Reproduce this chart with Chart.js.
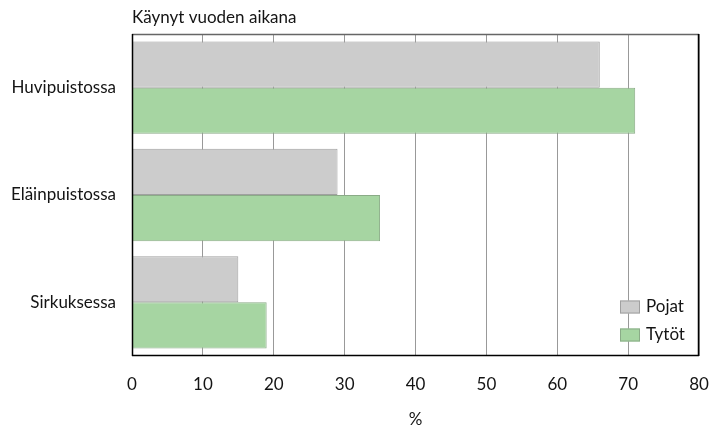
<!DOCTYPE html>
<html>
<head>
<meta charset="utf-8">
<script src="https://cdn.jsdelivr.net/npm/chart.js@4"></script>
<style>
  html, body { margin: 0; padding: 0; background: #fff; }
  #wrap { width: 715px; height: 430px; }
</style>
</head>
<body>
<div id="wrap"><canvas id="c" width="715" height="430"></canvas></div>
<script>
const categories = ['Huvipuistossa', 'Eläinpuistossa', 'Sirkuksessa'];
const pojat = [66, 29, 15];
const tytot = [71, 35, 19];
const seriesNames = ['Pojat', 'Tytöt'];
const titleText = 'Käynyt vuoden aikana';
const axisTitle = '%';

const FAMILY = "Lato, 'Open Sans', sans-serif";
const SIZE = 17;
const TEXT = '#141414';
const FONT_STR = SIZE + 'px ' + FAMILY;
const tickFont = { family: FAMILY, size: SIZE };
const colors = [
  { fill: '#cccccc', border: '#a0a0a0' },
  { fill: '#a6d5a2', border: '#8aab87' }
];

// Frame around the plot area, heading above it and legend inside it
const decor = {
  id: 'decor',
  afterDraw(chart) {
    const { ctx, chartArea: a } = chart;
    ctx.save();
    ctx.lineWidth = 1.5;
    ctx.strokeStyle = '#666';
    ctx.beginPath(); ctx.moveTo(a.left, a.top + 0.5); ctx.lineTo(a.right, a.top + 0.5); ctx.stroke();
    ctx.strokeStyle = '#000';
    ctx.beginPath();
    ctx.moveTo(a.right - 0.5, a.top); ctx.lineTo(a.right - 0.5, a.bottom);
    ctx.moveTo(a.left + 0.5, a.top); ctx.lineTo(a.left + 0.5, a.bottom);
    ctx.moveTo(a.left, a.bottom - 0.5); ctx.lineTo(a.right, a.bottom - 0.5);
    ctx.stroke();

    ctx.fillStyle = TEXT;
    ctx.font = FONT_STR;
    ctx.textBaseline = 'middle';
    ctx.textAlign = 'left';
    ctx.fillText(titleText, a.left, 18);

    // legend
    const boxX = a.right - 79, boxW = 20, boxH = 13;
    const rows = [a.bottom - 49, a.bottom - 21];
    seriesNames.forEach((name, i) => {
      const y = rows[i];
      ctx.fillStyle = colors[i].fill;
      ctx.fillRect(boxX, y - boxH / 2, boxW, boxH);
      ctx.strokeStyle = colors[i].border;
      ctx.lineWidth = 1;
      ctx.strokeRect(boxX + 0.5, y - boxH / 2 + 0.5, boxW - 1, boxH - 1);
      ctx.fillStyle = TEXT;
      ctx.fillText(name, boxX + boxW + 6, y);
    });
    ctx.restore();
  }
};

new Chart(document.getElementById('c'), {
  type: 'bar',
  data: {
    labels: categories,
    datasets: [
      { label: seriesNames[0], data: pojat, backgroundColor: colors[0].fill, borderColor: colors[0].border, borderWidth: 1 },
      { label: seriesNames[1], data: tytot, backgroundColor: colors[1].fill, borderColor: colors[1].border, borderWidth: 1 }
    ]
  },
  options: {
    indexAxis: 'y',
    responsive: false,
    animation: false,
    devicePixelRatio: 1,
    layout: { padding: { top: 34, right: 16, left: 0, bottom: 0 } },
    datasets: { bar: { categoryPercentage: 0.86, barPercentage: 1.0 } },
    plugins: {
      legend: { display: false },
      title: { display: false },
      tooltip: { enabled: false }
    },
    scales: {
      x: {
        min: 0, max: 80,
        ticks: { stepSize: 10, color: TEXT, font: tickFont, padding: 18 },
        grid: { color: '#999', drawTicks: false, lineWidth: 1 },
        border: { display: false },
        title: { display: true, text: axisTitle, color: TEXT, font: tickFont, padding: { top: 22, bottom: 0 } },
        afterFit(s) { s.height = 74; s.paddingLeft = 0; s.paddingRight = 0; }
      },
      y: {
        ticks: { color: TEXT, font: tickFont, padding: 16 },
        grid: { display: false, drawTicks: false },
        border: { display: false },
        afterFit(s) { s.width = 132; }
      }
    }
  },
  plugins: [decor]
});
</script>
</body>
</html>
